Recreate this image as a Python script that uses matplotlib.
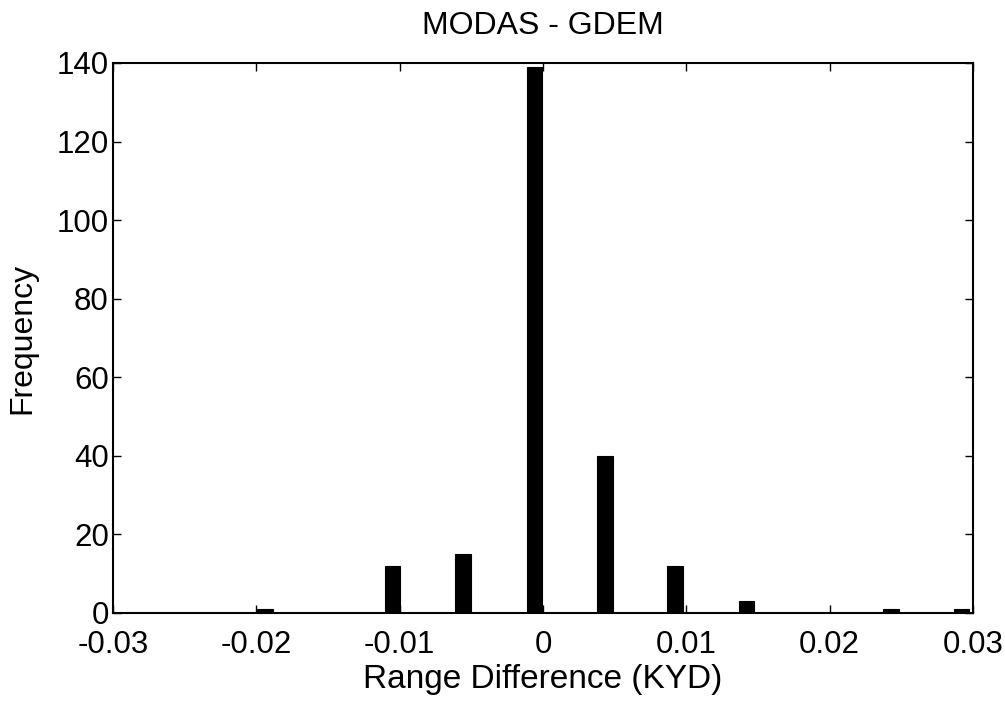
import numpy as np
import matplotlib.pyplot as plt

# bin centres (KYD) and counts
centres = [-0.0194, -0.0105, -0.0056, -0.0006, 0.0043, 0.0092, 0.0142, 0.0243, 0.0292]
counts = [1, 12, 15, 139, 40, 12, 3, 1, 1]
xticks = [-0.03, -0.02, -0.01, 0, 0.01, 0.02, 0.03]
xlabels = ['-0.03', '-0.02', '-0.01', '0', '0.01', '0.02', '0.03']
yticks = [0, 20, 40, 60, 80, 100, 120, 140]

plt.rcParams['font.family'] = ['Liberation Sans', 'DejaVu Sans']

fig = plt.figure(figsize=(10.05, 7.02), dpi=100)
ax = fig.add_axes([113/1005, 1 - 613/702, 860/1005, 550/702])

ax.bar(centres, counts, width=0.0011, color='black', edgecolor='black', linewidth=0.8)

ax.set_xlim(-0.03, 0.03)
ax.set_ylim(0, 140)
ax.set_xticks(xticks)
ax.set_xticklabels(xlabels)
ax.set_yticks(yticks)
ax.tick_params(direction='in', length=6, width=1, top=True, right=True, labelsize=22.5, pad=3)
ax.tick_params(axis='x', pad=12)
for s in ax.spines.values():
    s.set_linewidth(1.5)

ax.set_title('MODAS - GDEM', fontsize=23, pad=21)
ax.set_xlabel('Range Difference (KYD)', fontsize=24, labelpad=3)
ax.set_ylabel('Frequency', fontsize=23, labelpad=14)

fig.savefig('out.png', dpi=100)
